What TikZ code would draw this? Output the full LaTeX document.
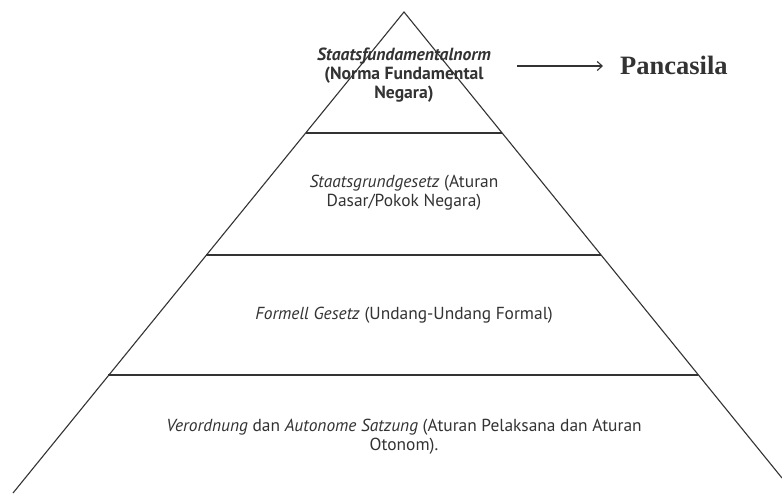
\documentclass[tikz,border=0pt]{standalone}
\usepackage{fontspec}
\setmainfont{PT Sans}
\newfontfamily\pserif{Liberation Serif}
\usetikzlibrary{arrows.meta}
\definecolor{ink}{HTML}{333333}
\begin{document}
\begin{tikzpicture}[x=1pt,y=-1pt,
  edge/.style={draw=ink,line width=1.1pt},
  label/.style={text=ink,align=center,font=\fontsize{17.4}{19}\selectfont,inner sep=0pt}]
\useasboundingbox[fill=white] (0,0) rectangle (782,493);
\coordinate (apex) at (404,12);
\coordinate (bl) at (13,493);
\coordinate (br) at (782,478);
\draw[edge] (bl) -- (apex) -- (br);
\coordinate (l1a) at (305.5,133); \coordinate (l1b) at (502,133);
\coordinate (l2a) at (206,255); \coordinate (l2b) at (601,255);
\coordinate (l3a) at (108,375); \coordinate (l3b) at (698,375);
\draw[edge] (l1a) -- (l1b);
\draw[edge] (l2a) -- (l2b);
\draw[edge] (l3a) -- (l3b);
\node[label,font=\bfseries\fontsize{17.6}{19}\selectfont] (t1) at (404,75) {\textit{Staatsfundamentalnorm}\\(Norma Fundamental\\Negara)};
\node[label] (t2) at (404,193) {\textit{Staatsgrundgesetz} (Aturan\\Dasar/Pokok Negara)};
\node[label] (t3) at (404,315) {\textit{Formell Gesetz} (Undang-Undang Formal)};
\node[label] (t4) at (404,437) {\textit{Verordnung} dan \textit{Autonome Satzung} (Aturan Pelaksana dan Aturan\\Otonom).};
\node[text=ink,font=\pserif\bfseries\fontsize{26.5}{30}\selectfont,anchor=west,inner sep=0pt] (pc) at (620,65) {Pancasila};
\coordinate (as) at (517,66);
\draw[ink,line width=1.1pt,-{Straight Barb[length=5pt,width=9pt]}] (as) -- ([xshift=-17pt]pc.west |- as);
\end{tikzpicture}
\end{document}
